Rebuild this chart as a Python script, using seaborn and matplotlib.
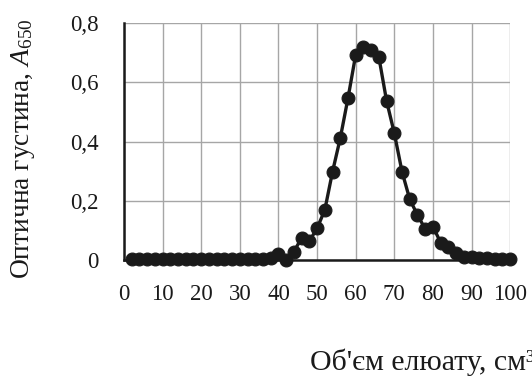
import matplotlib
matplotlib.use("Agg")
import matplotlib.pyplot as plt
import seaborn as sns
import pandas as pd
import numpy as np

# об'єм елюату (кожні 2 см3) та оптична густина
volume = list(range(2, 101, 2))
absorb = [0.003, 0.003, 0.003, 0.003, 0.003, 0.003, 0.003, 0.003, 0.003, 0.003,
          0.003, 0.003, 0.003, 0.003, 0.003, 0.003, 0.003, 0.004, 0.006, 0.02,
          0.0, 0.028, 0.075, 0.064, 0.107, 0.169, 0.298, 0.411, 0.546, 0.693,
          0.72, 0.71, 0.685, 0.537, 0.428, 0.298, 0.205, 0.152, 0.105, 0.113,
          0.059, 0.045, 0.025, 0.012, 0.01, 0.008, 0.006, 0.005, 0.004, 0.003]
xticks = list(range(0, 101, 10))
yticks = [0, 0.2, 0.4, 0.6, 0.8]
ylabels = ["0", "0,2", "0,4", "0,6", "0,8"]

df = pd.DataFrame({"V": volume, "A": absorb})

sns.set_style("white")
plt.rcParams["font.family"] = ["Liberation Serif", "DejaVu Serif"]
plt.rcParams["mathtext.fontset"] = "custom"
plt.rcParams["mathtext.rm"] = "Liberation Serif"
plt.rcParams["mathtext.it"] = "Liberation Serif:italic"

fig = plt.figure(figsize=(5.32, 3.78), dpi=100)
ax = fig.add_axes([0.233, 0.312, 0.726, 0.627])

sns.lineplot(data=df, x="V", y="A", ax=ax, color="#1a1a1a", linewidth=2.4,
             marker="o", markersize=9.3, markeredgecolor="#1a1a1a", clip_on=False, zorder=5)

ax.set_xlim(0, 100)
ax.set_ylim(0, 0.8)
ax.set_xticks(xticks)
ax.set_yticks(yticks)
ax.set_yticklabels(ylabels)
ax.grid(True, color="#a6a6a6", linewidth=1.0)
ax.set_axisbelow(True)
for s in ["top", "right"]:
    ax.spines[s].set_visible(False)
for s in ["left", "bottom"]:
    ax.spines[s].set_color("#1a1a1a")
    ax.spines[s].set_linewidth(1.8)
ax.tick_params(axis="both", direction="out", length=5, width=1.5, color="#1a1a1a",
               labelsize=16.5, labelcolor="#1a1a1a")
ax.tick_params(axis="x", pad=12)
ax.tick_params(axis="y", pad=13)
ax.set_xlabel("")
ax.set_ylabel("")

fig.text(0.043, 0.606, r"Оптична густина, $\mathit{A}_{650}$", rotation=90,
         ha="center", va="center", fontsize=19.8, color="#1a1a1a")
fig.text(0.583, 0.021, "Об'єм елюату, см³", ha="left", va="baseline",
         fontsize=21.5, color="#1a1a1a")

fig.savefig("out.png", dpi=100)
